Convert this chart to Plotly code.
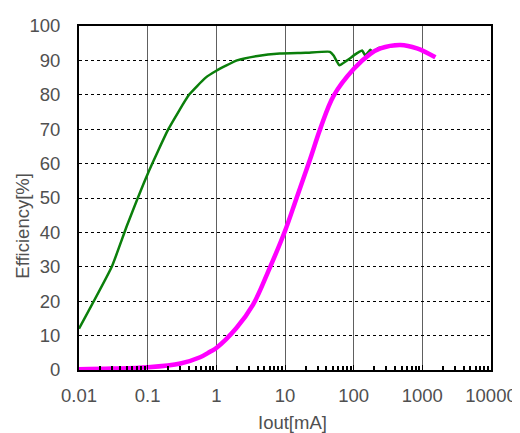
import plotly.graph_objects as go

green_x = [0.01, 0.03, 0.05, 0.1, 0.2, 0.4, 0.7, 1, 2, 4, 8.4, 20, 45, 51, 62, 80, 112, 133, 148, 175, 190, 230, 300, 400]
green_y = [12, 30, 42, 57, 70, 80, 85, 87, 90, 91.3, 92, 92.2, 92.5, 91.4, 88.6, 90, 92.1, 92.9, 91.4, 93.1, 92.4, 93.6, 94, 94.3]

mag_x = [0.01, 0.03, 0.1, 0.3, 0.58, 0.81, 1, 1.96, 3.43, 6, 10, 14.8, 23.4, 32.6, 51, 100, 175, 245, 480, 835, 1550]
mag_y = [0.2, 0.4, 0.8, 1.9, 3.7, 5.3, 6.4, 12.2, 19, 29.7, 40.4, 50.1, 61.5, 70.1, 79.7, 87.5, 91.9, 93.5, 94.5, 93.5, 90.9]

x_tickvals = [0.01, 0.1, 1, 10, 100, 1000, 10000]
x_ticktext = ["0.01", "0.1", "1", "10", "100", "1000", "10000"]
y_tickvals = [0, 10, 20, 30, 40, 50, 60, 70, 80, 90, 100]
x_minor = [m * d for d in x_tickvals[:-1] for m in range(2, 10)]

font = "Liberation Sans, Arial, sans-serif"
txt = "#505050"

fig = go.Figure()
fig.add_trace(go.Scatter(x=green_x, y=green_y, mode="lines",
                         line=dict(color="#0B7F0B", width=2.5, shape="spline", smoothing=0.4),
                         showlegend=False))
fig.add_trace(go.Scatter(x=mag_x, y=mag_y, mode="lines",
                         line=dict(color="#FF00FF", width=4.5, shape="spline", smoothing=1.0),
                         showlegend=False))

fig.update_layout(
    width=520, height=433,
    margin=dict(l=71, r=37, t=18, b=71, autoexpand=False),
    paper_bgcolor="white", plot_bgcolor="white",
    font=dict(family=font, size=18.5, color=txt),
    xaxis=dict(
        type="log", range=[-2, 4],
        tickvals=x_tickvals, ticktext=x_ticktext,
        showgrid=True, gridcolor="#606060", gridwidth=1,
        showline=True, linecolor="black", linewidth=2, mirror=True,
        ticks="inside", ticklen=5, tickcolor="black",
        minor=dict(tickmode="array", tickvals=x_minor, ticks="inside", ticklen=4,
                   tickcolor="black", tickwidth=1.5, showgrid=False),
        ticklabelstandoff=8,
        zeroline=False, automargin=False,
    ),
    yaxis=dict(
        range=[0, 100], tickvals=y_tickvals,
        showgrid=True, gridcolor="black", gridwidth=1, griddash="dot",
        showline=True, linecolor="black", linewidth=2, mirror=True,
        ticks="", ticklabelstandoff=13,
        zeroline=False, automargin=False,
    ),
    annotations=[
        dict(text="Iout[mA]", xref="paper", yref="paper", x=0.517, y=-0.154,
             xanchor="center", yanchor="middle", showarrow=False,
             font=dict(size=18.5, color=txt)),
        dict(text="Efficiency[%]", xref="paper", yref="paper", x=-0.138, y=0.42,
             xanchor="center", yanchor="middle", showarrow=False, textangle=-90,
             font=dict(size=18.5, color=txt)),
    ],
)

fig.write_html("out.html")
